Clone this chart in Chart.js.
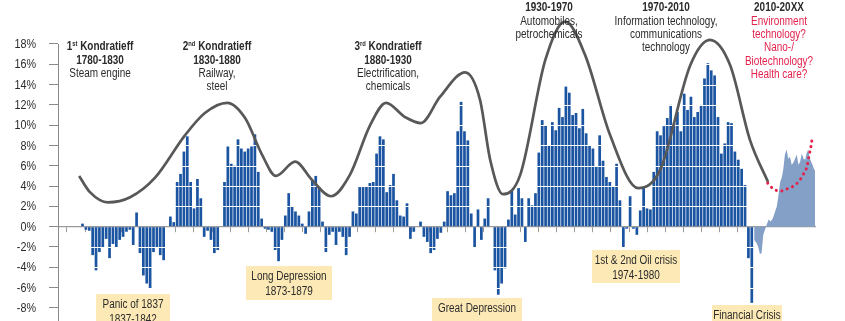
<!DOCTYPE html>
<html>
<head>
<meta charset="utf-8">
<script src="https://cdn.jsdelivr.net/npm/chart.js@4.4.1/dist/chart.umd.min.js"></script>
<style>
  html, body { margin: 0; padding: 0; background: #fff; }
</style>
</head>
<body>
<canvas id="cycles" width="845" height="321"></canvas>
<script>
const FONT = '"Liberation Sans", Arial, sans-serif';
const SQUEEZE = 0.83; // narrow the text horizontally
const TEXT = '#2b2b2b';
const RED = '#e3234d';

// yearly returns, one bar per year from firstYear on
const firstYear = 1810;
const annualReturns = [
  0.3, -0.3, -0.4, -2.8, -4.3, -2.5, -2.0, -1.2, -3.1, -1.7,
  -2.0, -1.3, -1.0, -0.5, -0.3, -1.8, 1.4, -2.6, -4.8, -5.6,
  -6.1, -2.5, -2.0, -2.8, -3.3, 0, 1.0, 0.45, 4.4, 5.2,
  7.4, 8.9, 4.4, 1.8, 4.7, 2.8, -1.0, -0.4, -1.3, -2.6,
  -2.3, 0, 4.4, 7.9, 6.2, 6.0, 8.6, 7.7, 7.4, 7.7,
  7.9, 9.1, 5.4, 0.8, -0.2, -0.3, -0.5, -2.3, -3.4, -1.3,
  1.1, 3.3, 2.0, 1.5, 1.1, 0.3, -0.7, 1.5, 4.6, 5.0,
  3.9, 0.5, -2.5, -0.8, -0.5, -1.8, -0.5, -1.0, -2.8, -1.0,
  1.5, 1.3, 3.9, 3.9, 4.0, 4.3, 4.4, 7.2, 8.9, 8.6,
  3.4, 4.1, 5.2, 2.6, 1.1, 1.0, 2.3, -1.2, -0.5, 0,
  0.5, -1.0, -1.5, -2.6, -2.3, -1.2, -0.6, 0.5, 3.5, 3.1,
  3.3, 9.4, 12.3, 9.4, 8.5, 1.3, -2.1, 1.7, -1.3, 0.8,
  2.8, 0, -4.3, -6.7, -5.6, -4.1, 0.7, 3.6, 1.2, 3.8,
  2.8, -1.5, 2.8, 2.1, 3.3, 7.3, 10.5, 10.0, 8.0, 10.3,
  9.5, 11.7, 10.8, 13.8, 13.2, 11.0, 11.2, 9.7, 11.6, 9.2,
  8.0, 7.7, 5.9, 9.0, 6.5, 4.9, 4.4, 4.0, 6.2, 2.6,
  -2.1, -0.2, 3.0, -0.2, -0.8, 1.6, 3.9, 1.8, 1.7, 5.4,
  9.4, 9.0, 9.9, 10.7, 12.0, 10.2, 11.3, 9.4, 13.1, 11.5,
  12.8, 10.8, 11.3, 12.0, 14.6, 16.1, 15.4, 14.9, 10.8, 7.2,
  8.2, 10.3, 10.2, 7.4, 6.6, 5.7, 4.1, -3.1, -7.5
];

// projected path after the crisis
const projYears = [2008.7, 2009.4, 2009.9, 2010.4, 2010.9, 2011.4, 2012.0, 2012.4, 2013.0, 2013.6,
  2014.2, 2014.9, 2015.4, 2015.9, 2016.4, 2016.9, 2017.3, 2017.8, 2018.3, 2018.8,
  2019.3, 2019.8, 2020.3, 2020.8, 2021.3, 2021.8, 2022.3, 2022.8, 2023.3, 2023.8,
  2024.2, 2024.7, 2025.2, 2025.7, 2026.4, 2026.7];
const projValues = [-1.3, -1.6, -2.0, -2.7, -2.6, -0.8, -0.2, 0.2, 0.7, 0.5,
  0.8, 1.5, 2.0, 3.1, 4.4, 4.9, 5.6, 7.1, 7.6, 6.7,
  6.9, 6.1, 6.3, 6.7, 7.1, 6.1, 6.4, 7.2, 6.7, 6.6,
  7.2, 7.6, 6.7, 6.3, 5.7, 5.5];

// long waves
const waveYears = [1809.0, 1812.2, 1817.5, 1824.1, 1831.4, 1840.3, 1846.2, 1852.8, 1858.1, 1863.1,
  1867.2, 1872.9, 1877.9, 1883.5, 1889.1, 1895.1, 1899.8, 1905.4, 1910.1, 1915.8,
  1923.2, 1927.6, 1930.6, 1934.4, 1939.5, 1946.9, 1952.8, 1958.7, 1966.1, 1974.4,
  1980.9, 1989.8, 1995.6, 2001.6, 2007.5, 2012.8];
const waveValues = [5.0, 3.4, 2.4, 2.9, 4.8, 9.0, 11.2, 12.2, 10.7, 7.1,
  5.0, 6.4, 4.6, 3.0, 5.1, 10.0, 12.2, 10.8, 10.2, 12.8,
  15.2, 12.5, 6.6, 3.2, 5.1, 16.4, 20.2, 16.9, 9.0, 3.8,
  5.6, 15.9, 18.4, 15.9, 8.5, 4.4];

// the next wave, still open
const outlookYears = [2012.7, 2014.1, 2016.4, 2018.3, 2020.3, 2022.0, 2023.3, 2024.3, 2025.0, 2025.7, 2025.9];
const outlookValues = [4.3, 3.8, 3.5, 3.7, 4.0, 4.5, 5.2, 5.9, 7.1, 8.3, 8.9];

const yTicks = [-8, -6, -4, -2, 0, 2, 4, 6, 8, 10, 12, 14, 16, 18];

const eraTitles = ['1st Kondratieff', '2nd Kondratieff', '3rd Kondratieff', null, null, null];
const eraPeriods = ['1780-1830', '1830-1880', '1880-1930', '1930-1970', '1970-2010', '2010-20XX'];
const eraDrivers = [
  ['Steam engine'],
  ['Railway,', 'steel'],
  ['Electrification,', 'chemicals'],
  ['Automobiles,', 'petrochemicals'],
  ['Information technology,', 'communications', 'technology'],
  ['Environment', 'technology?', 'Nano-/', 'Biotechnology?', 'Health care?']
];
const crisisLabels = [
  ['Panic of 1837', '1837-1842'],
  ['Long Depression', '1873-1879'],
  ['Great Depression'],
  ['1st & 2nd Oil crisis', '1974-1980'],
  ['Financial Crisis']
];

// text block placement: centre x, first line y
const eraAnchors = [[100, 47], [217, 47], [388, 47], [549, 8], [666, 8], [779, 8]];
// crisis boxes: x, y, w, h
const crisisBoxes = [[96, 294, 74, 32], [246, 266, 86, 34], [432, 298, 90, 26], [592, 250, 88, 33], [712, 305, 70, 20]];

const toPoints = (xs, ys) => xs.map((x, i) => ({ x, y: ys[i] }));

function narrowText(ctx, text, x, y, align) {
  ctx.save();
  ctx.translate(x, y);
  ctx.scale(SQUEEZE, 1);
  ctx.textAlign = align;
  ctx.fillText(text, 0, 0);
  ctx.restore();
}

function drawTitle(ctx, text, cx, cy) {
  const m = text.match(/^(\d)(st|nd|rd|th)(.*)$/);
  const big = 'bold 12px ' + FONT;
  const small = 'bold 7px ' + FONT;
  ctx.font = big;
  const w1 = ctx.measureText(m[1]).width * SQUEEZE;
  const w3 = ctx.measureText(m[3]).width * SQUEEZE;
  ctx.font = small;
  const w2 = ctx.measureText(m[2]).width * SQUEEZE;
  let x = cx - (w1 + w2 + w3) / 2;
  ctx.font = big;
  narrowText(ctx, m[1], x, cy, 'left');
  x += w1;
  ctx.font = small;
  narrowText(ctx, m[2], x, cy - 3, 'left');
  x += w2;
  ctx.font = big;
  narrowText(ctx, m[3], x, cy, 'left');
}

const decorations = {
  id: 'decorations',
  afterDatasetDraw(chart, args) {
    if (args.meta.type !== 'bar') return;
    // white rules through the bars at every tick
    const { ctx, scales: { x, y } } = chart;
    const left = x.getPixelForValue(firstYear - 0.5);
    const right = x.getPixelForValue(firstYear + annualReturns.length - 0.5);
    ctx.save();
    ctx.strokeStyle = '#fff';
    ctx.lineWidth = 1;
    yTicks.forEach(v => {
      if (v === 0) return;
      const py = Math.round(y.getPixelForValue(v)) + 0.5;
      ctx.beginPath();
      ctx.moveTo(left, py);
      ctx.lineTo(right, py);
      ctx.stroke();
    });
    ctx.restore();
  },
  afterDraw(chart) {
    const { ctx, chartArea, scales: { y } } = chart;
    ctx.save();

    // y axis line, from the top tick down
    ctx.strokeStyle = '#8a8a8a';
    ctx.lineWidth = 1;
    ctx.beginPath();
    ctx.moveTo(chartArea.left + 0.5, Math.round(y.getPixelForValue(18)));
    ctx.lineTo(chartArea.left + 0.5, chartArea.bottom);
    ctx.stroke();

    ctx.textBaseline = 'middle';

    // tick labels
    ctx.fillStyle = TEXT;
    ctx.font = '13px ' + FONT;
    yTicks.forEach(v => narrowText(ctx, v + '%', 36, y.getPixelForValue(v) + 0.5, 'right'));

    const lh = 13.3;
    eraAnchors.forEach(([cx, cy], i) => {
      let row = 0;
      ctx.fillStyle = TEXT;
      if (eraTitles[i]) {
        drawTitle(ctx, eraTitles[i], cx, cy);
        row++;
      }
      ctx.font = 'bold 12px ' + FONT;
      narrowText(ctx, eraPeriods[i], cx, cy + row * lh, 'center');
      row++;
      ctx.font = '12px ' + FONT;
      ctx.fillStyle = i === 5 ? RED : TEXT;
      eraDrivers[i].forEach(line => {
        narrowText(ctx, line, cx, cy + row * lh, 'center');
        row++;
      });
    });

    crisisBoxes.forEach(([bx, by, bw, bh], i) => {
      ctx.fillStyle = '#fce9b6';
      ctx.fillRect(bx, by, bw, bh);
      ctx.fillStyle = TEXT;
      ctx.font = '12px ' + FONT;
      crisisLabels[i].forEach((line, j) => {
        narrowText(ctx, line, bx + bw / 2, by + 10.5 + j * 15.5, 'center');
      });
    });
    ctx.restore();
  }
};

new Chart(document.getElementById('cycles'), {
  type: 'bar',
  data: {
    datasets: [
      {
        type: 'line',
        label: 'Outlook',
        data: toPoints(outlookYears, outlookValues),
        borderColor: RED,
        borderWidth: 3,
        borderDash: [0.1, 5.6],
        borderCapStyle: 'round',
        pointRadius: 0,
        cubicInterpolationMode: 'monotone',
        order: 1
      },
      {
        type: 'line',
        label: 'Kondratieff wave',
        data: toPoints(waveYears, waveValues),
        borderColor: '#585858',
        borderWidth: 2.7,
        pointRadius: 0,
        cubicInterpolationMode: 'monotone',
        order: 2
      },
      {
        type: 'line',
        label: 'Projection',
        data: toPoints(projYears, projValues),
        borderWidth: 0,
        backgroundColor: '#84a0c6',
        fill: 'origin',
        pointRadius: 0,
        order: 3
      },
      {
        type: 'bar',
        label: 'Returns',
        data: annualReturns.map((v, i) => ({ x: firstYear + i, y: v })),
        backgroundColor: '#1b54a0',
        categoryPercentage: 1,
        barPercentage: 0.8,
        order: 4
      }
    ]
  },
  options: {
    responsive: false,
    animation: false,
    devicePixelRatio: 1,
    layout: { padding: { left: 0, right: 30, top: 0, bottom: 0 } },
    plugins: { legend: { display: false }, tooltip: { enabled: false } },
    scales: {
      x: {
        type: 'linear',
        position: { y: 0 },
        min: 1802.75,
        max: 2026.7,
        offset: false,
        afterBuildTicks: scale => {
          const ticks = [];
          for (let t = 1808.08; t < 2009; t += 5.364) ticks.push({ value: t });
          scale.ticks = ticks;
        },
        ticks: { display: false },
        grid: { drawOnChartArea: false, drawTicks: true, tickLength: 5, color: '#9a9a9a' },
        border: { display: true, color: '#9a9a9a', width: 1.2 }
      },
      y: {
        type: 'linear',
        position: 'left',
        min: -9.29,
        max: 22.33,
        afterBuildTicks: scale => {
          scale.ticks = yTicks.map(v => ({ value: v }));
        },
        afterFit: scale => {
          scale.width = 58;
          scale.paddingTop = 0;
          scale.paddingBottom = 0;
        },
        ticks: {
          padding: 13,
          color: 'rgba(0,0,0,0)',
          font: { family: FONT, size: 13 },
          callback: v => v + '%'
        },
        grid: { drawOnChartArea: false, drawTicks: true, tickLength: 9, color: '#8a8a8a' },
        border: { display: false }
      }
    }
  },
  plugins: [decorations]
});
</script>
</body>
</html>
